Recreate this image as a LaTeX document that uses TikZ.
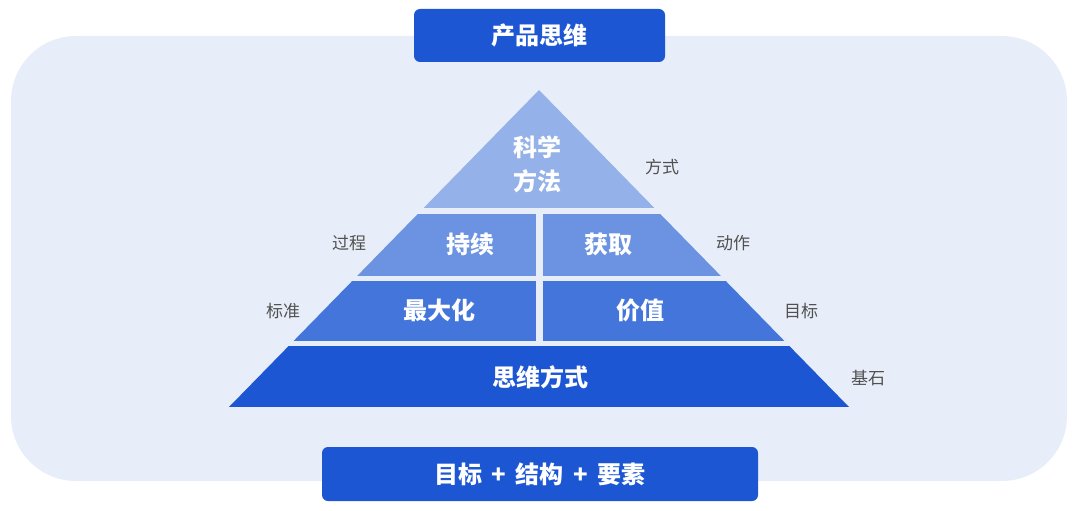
\documentclass[tikz,border=0pt]{standalone}
\usepackage{fontspec}
\setmainfont{Noto Sans CJK SC}
\usepackage{xcolor}

\definecolor{bgblue}{HTML}{E8EEF9}
\definecolor{tierone}{HTML}{94B1E9}
\definecolor{tiertwo}{HTML}{6B93E1}
\definecolor{tierthree}{HTML}{4475DB}
\definecolor{tierfour}{HTML}{1D56D2}
\definecolor{labelgray}{HTML}{505050}

\begin{document}
\begin{tikzpicture}[x=1pt,y=-1pt,
    box/.style={fill=tierfour, rounded corners=6pt, text=white, inner sep=0pt,
        font=\fontsize{24}{28}\selectfont\bfseries},
    tier/.style={text=white, inner sep=0pt, align=center,
        font=\fontsize{24}{34}\selectfont\bfseries},
    side/.style={text=labelgray, inner sep=0pt, font=\fontsize{17}{20}\selectfont}]

    \useasboundingbox (0,0) rectangle (1080,511);
    \fill[bgblue, rounded corners=65pt] (11,36) rectangle (1067,481);

    % pyramid, cut into bands
    \begin{scope}
        \clip (539,90) -- (849,407) -- (229,407) -- cycle;
        \fill[tierone] (200,80) rectangle (880,208);
        \fill[tiertwo] (200,214) rectangle (535.5,276);
        \fill[tiertwo] (542.5,214) rectangle (880,276);
        \fill[tierthree] (200,281) rectangle (535.5,341);
        \fill[tierthree] (542.5,281) rectangle (880,341);
        \fill[tierfour] (200,346) rectangle (880,407);
    \end{scope}

    \node[box, minimum width=251pt, minimum height=53pt] (title) at (539.5,35.5) {产品思维};
    \node[box, minimum width=436pt, minimum height=54pt] (basis) at (540,474)
        {目标\hspace{4pt} + \hspace{4pt}结构\hspace{4pt} + \hspace{4pt}要素};

    \node[tier] (kexue) at (537,164) {科学\\方法};
    \node[tier] (chixu) at (470,244) {持续};
    \node[tier] (huoqu) at (608,244) {获取};
    \node[tier] (zuida) at (439,310) {最大化};
    \node[tier] (jiazhi) at (640,310) {价值};
    \node[tier] (siwei) at (540,377) {思维方式};

    \node[side] (fangshi) at (662,167) {方式};
    \node[side] (guocheng) at (349,243) {过程};
    \node[side] (dongzuo) at (733,243) {动作};
    \node[side] (biaozhun) at (283,311) {标准};
    \node[side] (mubiao) at (801,311) {目标};
    \node[side] (jishi) at (868,378) {基石};
\end{tikzpicture}
\end{document}
